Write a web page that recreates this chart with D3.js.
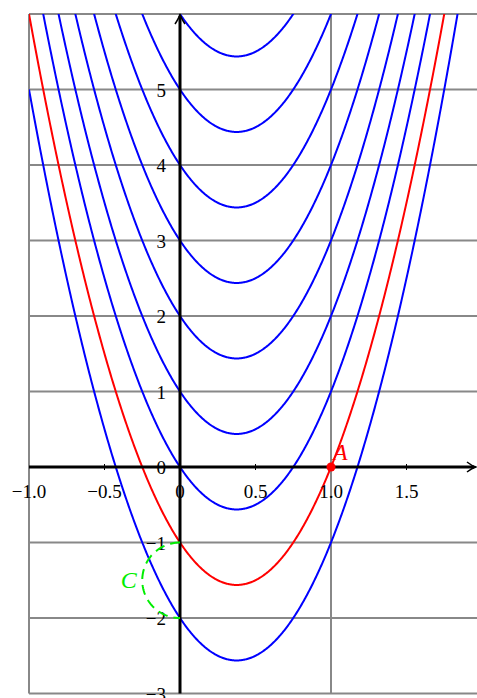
<!DOCTYPE html>
<html>
<head>
<meta charset="utf-8">
<script src="https://cdn.jsdelivr.net/npm/d3@7"></script>
<style>
  body { margin: 0; background: #fff; }
  svg { display: block; }
  text { font-family: "Liberation Serif", "DejaVu Serif", serif; }
</style>
</head>
<body>
<svg id="chart" width="477" height="698"></svg>
<script>
// family y = a x^2 + b x + c
let coefA = 4
let coefB = -3
let cValues = [-2, -1, 0, 1, 2, 3, 4, 5, 6]
let redC = -1
let xTicks = [-1, -0.5, 0, 0.5, 1, 1.5]
let xTickLabels = ['−1.0', '−0.5', '0', '0.5', '1.0', '1.5']
let yTicks = [-3, -2, -1, 0, 1, 2, 3, 4, 5]
let yGrid = [-3, -2, -1, 0, 1, 2, 3, 4, 5, 6]
let xGrid = [-1, 0, 1, 2]
let pointA = [1, 0]
// curve C : half ellipse between (0,-1) and (0,-2)
let arcCenter = [0, -1.5]
let arcRadii = [0.25, 0.5]

let xDomain = [-1, 2]
let yDomain = [-3, 6]

let svg = d3.select('#chart')
let xscale = d3.scaleLinear().domain(xDomain).range([29, 482])
let yscale = d3.scaleLinear().domain(yDomain).range([693.5, 14])

svg.append('defs').append('clipPath').attr('id', 'plotclip')
    .append('rect')
    .attr('x', xscale(-1)).attr('y', yscale(6))
    .attr('width', xscale(2) - xscale(-1))
    .attr('height', yscale(-3) - yscale(6))

// grid
svg.append('g').selectAll('line').data(yGrid).join('line')
    .attr('x1', xscale(-1)).attr('x2', xscale(2))
    .attr('y1', d => yscale(d)).attr('y2', d => yscale(d))
    .style('stroke', '#888').style('stroke-width', 2)

svg.append('g').selectAll('line').data(xGrid).join('line')
    .attr('x1', d => xscale(d)).attr('x2', d => xscale(d))
    .attr('y1', yscale(-3)).attr('y2', yscale(6))
    .style('stroke', '#888').style('stroke-width', 2)

// parabolas
let xs = d3.range(0, 601).map(i => xDomain[0] + (xDomain[1] - xDomain[0]) * i / 600)
let line = d3.line()
    .x(d => xscale(d[0]))
    .y(d => yscale(d[1]))
    .defined(d => d[1] <= 6.3 && d[1] >= -3.3)

let curves = svg.append('g').attr('clip-path', 'url(#plotclip)')
cValues.forEach((c) => {
    let pts = xs.map(x => [x, coefA * x * x + coefB * x + c])
    curves.append('path')
        .attr('d', line(pts))
        .style('fill', 'none')
        .style('stroke', c == redC ? '#ff0000' : '#0000ff')
        .style('stroke-width', 2)
})

// axes
svg.append('line')
    .attr('x1', xscale(-1)).attr('x2', 474)
    .attr('y1', yscale(0)).attr('y2', yscale(0))
    .style('stroke', '#000').style('stroke-width', 3)
svg.append('path')
    .attr('d', `M ${467},${yscale(0) - 5} Q ${472},${yscale(0) - 1} ${476},${yscale(0)} Q ${472},${yscale(0) + 1} ${467},${yscale(0) + 5}`)
    .style('fill', 'none').style('stroke', '#000').style('stroke-width', 1.5)

svg.append('line')
    .attr('x1', xscale(0)).attr('x2', xscale(0))
    .attr('y1', yscale(-3)).attr('y2', yscale(6) + 2)
    .style('stroke', '#000').style('stroke-width', 3)
svg.append('path')
    .attr('d', `M ${xscale(0) - 5},${yscale(6) + 10} Q ${xscale(0) - 1},${yscale(6) + 4} ${xscale(0)},${yscale(6)} Q ${xscale(0) + 1},${yscale(6) + 4} ${xscale(0) + 5},${yscale(6) + 10}`)
    .style('fill', 'none').style('stroke', '#000').style('stroke-width', 1.5)

// small ticks on x axis
svg.append('g').selectAll('line').data(xTicks.filter(d => d != 0 && d != -1)).join('line')
    .attr('x1', d => xscale(d)).attr('x2', d => xscale(d))
    .attr('y1', yscale(0) - 3).attr('y2', yscale(0) + 3)
    .style('stroke', '#000').style('stroke-width', 1)

// tick labels
svg.append('g').selectAll('text').data(xTicks).join('text')
    .attr('x', d => xscale(d))
    .attr('y', yscale(0) + 31)
    .attr('text-anchor', 'middle')
    .style('font-size', '19px')
    .text((d, i) => xTickLabels[i])

svg.append('g').selectAll('text').data(yTicks).join('text')
    .attr('x', xscale(0) - 14)
    .attr('y', d => yscale(d) + 7)
    .attr('text-anchor', 'end')
    .style('font-size', '19px')
    .text(d => d < 0 ? '−' + Math.abs(d) : d)

// curve C
let arcPts = d3.range(0, 101).map(i => {
    let t = Math.PI * i / 100
    return [arcCenter[0] - arcRadii[0] * Math.sin(t), arcCenter[1] + arcRadii[1] * Math.cos(t)]
})
svg.append('path')
    .attr('d', d3.line().x(d => xscale(d[0])).y(d => yscale(d[1]))(arcPts))
    .style('fill', 'none')
    .style('stroke', '#00ee00')
    .style('stroke-width', 2)
    .style('stroke-dasharray', '10, 6')

svg.append('text')
    .attr('x', xscale(-0.34))
    .attr('y', yscale(-1.5) + 8)
    .attr('text-anchor', 'middle')
    .style('font-size', '24px')
    .style('font-style', 'italic')
    .style('fill', '#00ee00')
    .text('C')

// point A
svg.append('circle')
    .attr('cx', xscale(pointA[0])).attr('cy', yscale(pointA[1]))
    .attr('r', 4.5)
    .style('fill', '#ff0000')
svg.append('text')
    .attr('x', xscale(pointA[0]) + 2)
    .attr('y', yscale(pointA[1]) - 7)
    .style('font-size', '24px')
    .style('font-style', 'italic')
    .style('fill', '#ff0000')
    .text('A')
</script>
</body>
</html>
